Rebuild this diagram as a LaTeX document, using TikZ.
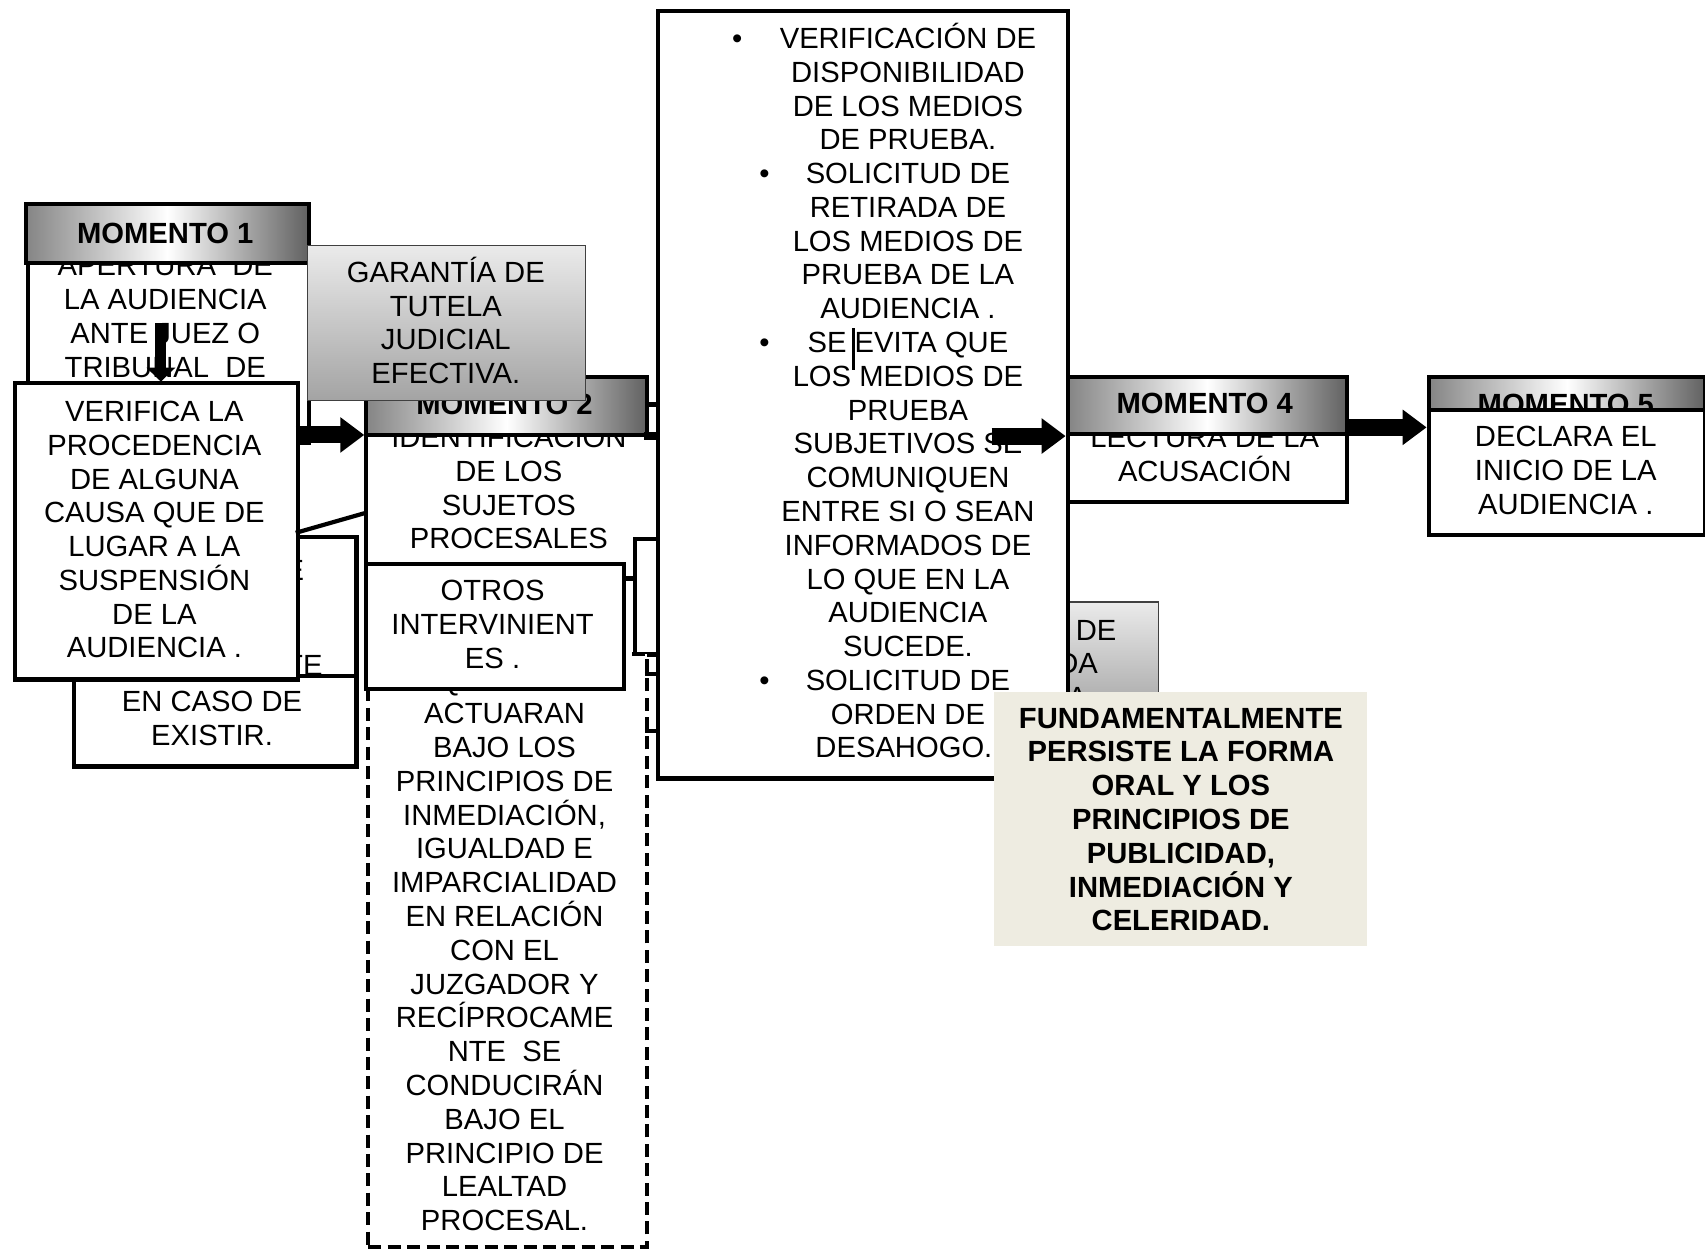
\documentclass[tikz,border=0pt]{standalone}
\usepackage{fontspec}
\setmainfont{Liberation Sans}
\usetikzlibrary{arrows.meta}
\definecolor{beige}{HTML}{EEECE1}
\newcommand\bx[6]{\node[#1, minimum width={(#5-#3)*0.5437pt}, minimum height={(#6-#4)*0.5437pt}] (#2) at (#3,#4) {};}
\newcommand\txtlines[5]{\foreach \lin [count=\i from 0] in {#5}{\node[#4] (#1\i) at (#2,{#3+31.07*\i+9.6}) {\lin};}}
\begin{document}
\begin{tikzpicture}[x=0.5437pt, y=-0.5437pt,
  box/.style={draw=black, line width=2.1pt, fill=white, inner sep=0pt, anchor=north west},
  dbox/.style={box, line width=1.9pt, dash pattern=on 6.5pt off 3.2pt},
  hdr/.style={box, left color=black!48, right color=black!62, middle color=white},
  gbox/.style={draw=black!75, line width=0.6pt, top color=black!8, bottom color=black!36, inner sep=0pt, anchor=north west},
  fbox/.style={fill=beige, draw=none, inner sep=0pt, anchor=north west},
  txt/.style={font=\fontsize{14.6}{16.86}\selectfont, inner sep=0pt, anchor=base},
  txtb/.style={txt, font=\fontsize{14.6}{16.86}\selectfont\bfseries},
  conn/.style={line width=2.1pt},
  barrow/.style={line width=8.5pt, -{Triangle[length=12pt,width=17pt]}},
  darrow/.style={line width=5.5pt, -{Triangle[length=7pt,width=14pt]}}]
\fill[white] (0,0) rectangle (1568,1148);
\useasboundingbox (0,0) rectangle (1568,1148);

% Momento 1
\bx{box}{m1b}{24}{240}{282}{405}
\txtlines{m1t}{152}{244}{txt}{APERTURA\ \ DE, LA AUDIENCIA, ANTE JUEZ O, TRIBUNAL\ \ DE}
\bx{hdr}{m1h}{22}{186}{282}{240}
\node[txtb] (m1ht) at (152,223.6) {MOMENTO 1};
\coordinate (d1) at (148,297);
\coordinate (d2) at (148,351);
\draw[darrow] (d1) -- (d2);

% boxes behind VERIFICA
\bx{box}{bka}{66}{492}{326}{703}
\node[txt, anchor=base east] (bkaf1) at (280,533.6) {E};
\node[txt, anchor=base east] (bkaf2) at (297,621.6) {TE};
\bx{box}{bkb}{66}{620}{326}{703}
\txtlines{bkbt}{195}{645}{txt}{EN CASO DE, EXISTIR.}

% VERIFICA
\bx{box}{ver}{12}{350}{272}{623}
\txtlines{vert}{142}{378}{txt}{VERIFICA LA, PROCEDENCIA, DE ALGUNA, CAUSA QUE DE, LUGAR A LA, {SUSPENSIÓN}, DE LA, AUDIENCIA .}

% Momento 2
\bx{box}{m2b}{335}{398}{610}{530}
\txtlines{m2t}{468}{402}{txt}{IDENTIFICACIÓN, DE LOS, SUJETOS, PROCESALES}
\bx{hdr}{m2h}{335}{345}{593}{398}
\node[txtb] (m2ht) at (464,381.6) {MOMENTO 2};
\coordinate (a1s) at (272,400);
\draw[barrow] (a1s) -- (a1s -| m2b.west);
\coordinate (l1a) at (272,490);
\coordinate (l1b) at (335,472);
\draw[conn] (l1a) -- (l1b);

% box behind, right of Momento 2
\bx{box}{bkr}{582}{494}{640}{600}

% dashed box
\bx{dbox}{dsh}{337}{600}{593}{1145}
\txtlines{dsht}{464}{625}{txt}{QUIENES, ACTUARAN, BAJO LOS, PRINCIPIOS DE, {INMEDIACIÓN,}, IGUALDAD E, IMPARCIALIDAD, EN RELACIÓN, CON EL, JUZGADOR Y, RECÍPROCAME, NTE\ \ SE, CONDUCIRÁN, BAJO EL, PRINCIPIO DE, LEALTAD, PROCESAL.}

% OTROS
\bx{box}{otr}{335}{517}{572}{632}
\txtlines{otrt}{453}{543}{txt}{OTROS, INTERVINIENT, ES .}

% GARANTIA
\bx{gbox}{gar}{282}{225}{538}{368}
\txtlines{gart}{410}{250}{txt}{GARANTÍA DE, TUTELA, JUDICIAL, EFECTIVA.}

% gray box behind central box
\bx{gbox}{gr2}{900}{553}{1065}{660}
\node[txt, anchor=base east] (gr2f1) at (1027,588.6) {A DE};
\node[txt, anchor=base east] (gr2f2) at (1010,619.6) {DA};
\node[txt, anchor=base east] (gr2f3) at (1000,650.6) {A};

% central box
\bx{box}{cb}{603}{8}{980}{714}
\txtlines{cbt}{835}{35}{txt}{VERIFICACIÓN DE, DISPONIBILIDAD, DE LOS MEDIOS, DE PRUEBA., SOLICITUD DE, RETIRADA DE, LOS MEDIOS DE, PRUEBA DE LA, AUDIENCIA ., SE EVITA QUE, LOS MEDIOS DE, PRUEBA, SUBJETIVOS SE, COMUNIQUEN, ENTRE SI O SEAN, INFORMADOS DE, LO QUE EN LA, AUDIENCIA, SUCEDE., SOLICITUD DE, ORDEN DE, DESAHOGO.:}
\node[txt] (bul1) at (678,44.6) {•};
\node[txt] (bul2) at (703,168.9) {•};
\node[txt] (bul3) at (703,324.3) {•};
\node[txt] (bul4) at (703,634.9) {•};
\coordinate (cur1) at (785,302);
\coordinate (cur2) at (785,340);
\draw[line width=1.6pt] (cur1) -- (cur2);

% stubs to central box
\coordinate (s1) at (593,372);
\coordinate (s2) at (592,401);
\coordinate (s3) at (593,620);
\coordinate (s4) at (593,672);
\draw[conn] (s1) -- (s1 -| cb.west);
\draw[line width=4pt] (s2) -- (s2 -| cb.west);
\draw[conn] (s3) -- (s3 -| cb.west);
\draw[conn] (s4) -- (s4 -| cb.west);

% Fundamentalmente
\bx{fbox}{fun}{914}{636}{1257}{870}
\txtlines{funt}{1086}{660}{txtb}{FUNDAMENTALMENTE, PERSISTE LA FORMA, ORAL Y LOS, PRINCIPIOS DE, {PUBLICIDAD,}, INMEDIACIÓN Y, CELERIDAD.}

% Momento 4
\bx{box}{m4b}{980}{397}{1237}{460}
\txtlines{m4t}{1108}{402}{txt}{LECTURA DE LA, ACUSACIÓN}
\bx{hdr}{m4h}{980}{345}{1237}{397}
\node[txtb] (m4ht) at (1108,380.6) {MOMENTO 4};
\coordinate (a3s) at (912,401);
\draw[barrow] (a3s) -- (a3s -| m4b.west);

% Momento 5
\bx{hdr}{m5h}{1312}{345}{1566}{378}
\node[txtb] (m5ht) at (1440,381.6) {MOMENTO 5};
\bx{box}{m5b}{1312}{375}{1566}{490}
\txtlines{m5t}{1440}{401}{txt}{DECLARA EL, INICIO DE LA, AUDIENCIA .}
\coordinate (a4s) at (1237,393);
\draw[barrow] (a4s) -- (a4s -| m5b.west);
\end{tikzpicture}
\end{document}
